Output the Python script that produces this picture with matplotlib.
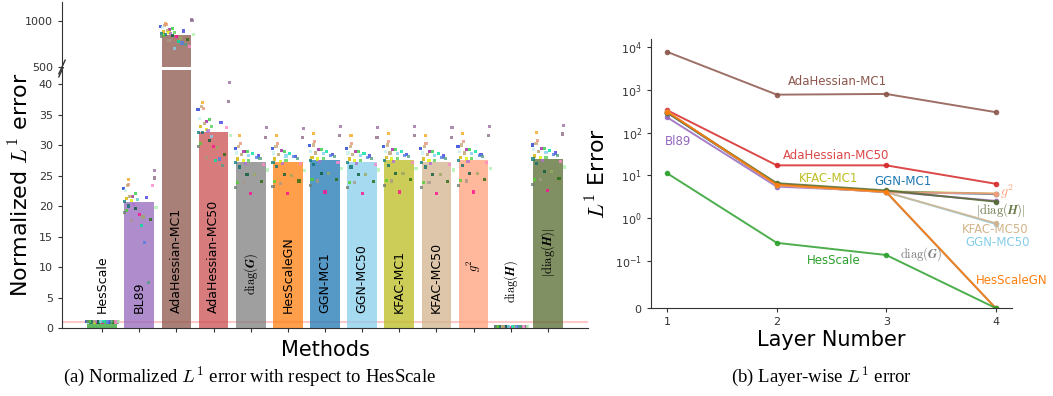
import matplotlib
matplotlib.use("Agg")
import matplotlib.pyplot as plt
from matplotlib.ticker import NullLocator

plt.rcParams['mathtext.fontset'] = 'cm'
plt.rcParams['font.family'] = ['DejaVu Sans']

# ---------------- data: normalized L1 error per method ----------------
methods = ["HesScale", "BL89", "AdaHessian-MC1", "AdaHessian-MC50",
           r"$\mathrm{diag}(\boldsymbol{G})$", "HesScaleGN", "GGN-MC1", "GGN-MC50",
           "KFAC-MC1", "KFAC-MC50", r"$g^2$", r"$\mathrm{diag}(\boldsymbol{H})$",
           r"$|\mathrm{diag}(\boldsymbol{H})|$"]
bar_values = [1.0, 20.6, 845.0, 32.2, 27.2, 27.2, 27.5, 27.2, 27.5, 27.2, 27.5, 0.03, 27.7]

# per-seed normalized errors for each method
seeds_hesscale = [1.05, 0.98, 1.02, 0.97, 1.03, 1.00, 0.99, 1.04, 0.96, 1.01,
                  0.98, 1.02, 1.00, 0.97, 1.03, 1.01, 0.99, 1.02, 0.98, 1.00,
                  1.01, 0.97, 1.03, 0.99, 1.00, 1.02, 0.98, 1.01, 0.99, 1.00]
seeds_bl89 = [25.8, 24.6, 24.4, 23.6, 23.4, 22.9, 22.6, 22.1, 21.6, 21.6,
              21.4, 21.3, 21.1, 20.9, 20.7, 20.3, 20.0, 19.8, 19.6, 19.3,
              19.0, 18.6, 18.2, 17.8, 17.6, 16.8, 14.0, 7.5, 23.3, 21.0]
seeds_ada1 = [1000, 1018, 975, 960, 950, 940, 930, 920, 905, 895,
              890, 880, 875, 870, 865, 860, 855, 850, 845, 840,
              835, 830, 815, 800, 790, 775, 760, 740, 720, 700]
seeds_ada50 = [40.3, 37.2, 37.0, 36.0, 36.3, 35.8, 34.4, 34.2, 33.8, 33.6,
               33.7, 33.0, 33.1, 32.6, 32.0, 32.3, 32.0, 31.6, 30.8, 30.2,
               29.7, 29.7, 29.6, 28.4, 28.0, 27.5, 27.7, 26.6, 32.9, 31.4]
seeds_diag_g = [32.8, 31.3, 31.6, 30.3, 29.7, 29.5, 28.7, 28.9, 29.0, 28.4,
                28.2, 27.7, 27.5, 27.4, 27.2, 27.0, 26.4, 25.9, 25.1, 23.9,
                23.1, 22.0, 25.1, 24.0, 23.8, 28.6, 28.0, 27.8, 26.8, 28.3]
seeds_hesgn = [32.7, 31.2, 31.6, 30.2, 29.7, 29.4, 28.7, 28.9, 29.1, 28.4,
               28.1, 27.7, 27.5, 27.3, 27.2, 27.0, 26.5, 25.8, 25.1, 24.0,
               23.2, 22.0, 25.0, 24.1, 23.7, 28.6, 28.1, 27.8, 26.9, 28.2]
seeds_ggn1 = [33.0, 31.6, 31.9, 30.6, 30.0, 29.9, 29.0, 29.2, 29.3, 28.7,
              28.5, 28.0, 27.8, 27.7, 27.5, 27.3, 26.8, 26.2, 25.4, 24.3,
              23.4, 22.3, 25.4, 24.3, 24.1, 28.9, 28.3, 28.1, 27.1, 28.6]
seeds_ggn50 = [32.8, 31.3, 31.6, 30.3, 29.7, 29.5, 28.7, 28.9, 29.0, 28.4,
               28.2, 27.7, 27.5, 27.4, 27.2, 27.0, 26.4, 25.9, 25.1, 23.9,
               23.1, 22.0, 25.1, 24.0, 23.8, 28.6, 28.0, 27.8, 26.8, 28.3]
seeds_kfac1 = [33.1, 31.6, 31.9, 30.6, 30.0, 29.8, 29.0, 29.2, 29.3, 28.7,
               28.5, 28.0, 27.8, 27.7, 27.5, 27.3, 26.7, 26.2, 25.4, 24.2,
               23.4, 22.3, 25.4, 24.3, 24.1, 28.9, 28.3, 28.1, 27.1, 28.6]
seeds_kfac50 = [32.8, 31.3, 31.6, 30.3, 29.7, 29.5, 28.7, 28.9, 29.0, 28.4,
                28.2, 27.7, 27.5, 27.4, 27.2, 27.0, 26.4, 25.9, 25.1, 23.9,
                23.1, 22.0, 25.1, 24.0, 23.8, 28.6, 28.0, 27.8, 26.8, 28.3]
seeds_g2 = [33.1, 31.6, 31.9, 30.6, 30.0, 29.8, 29.0, 29.2, 29.3, 28.7,
            28.5, 28.0, 27.8, 27.7, 27.5, 27.3, 26.7, 26.2, 25.4, 24.2,
            23.4, 22.3, 25.4, 24.3, 24.1, 28.9, 28.3, 28.1, 27.1, 28.6]
seeds_diag_h = [0.25, 0.18, 0.22, 0.15, 0.28, 0.20, 0.17, 0.24, 0.19, 0.21,
                0.16, 0.23, 0.20, 0.26, 0.18, 0.22, 0.19, 0.21, 0.17, 0.24,
                0.20, 0.15, 0.23, 0.19, 0.22, 0.18, 0.25, 0.20, 0.21, 0.19]
seeds_abs_diag_h = [33.2, 31.8, 32.0, 30.8, 30.2, 30.0, 29.2, 29.4, 29.5, 28.9,
                    28.7, 28.2, 28.0, 27.9, 27.7, 27.5, 26.9, 26.4, 25.6, 24.4,
                    23.6, 22.5, 25.6, 24.5, 24.3, 29.1, 28.5, 28.3, 27.3, 28.8]
seed_values = [seeds_hesscale, seeds_bl89, seeds_ada1, seeds_ada50, seeds_diag_g,
               seeds_hesgn, seeds_ggn1, seeds_ggn50, seeds_kfac1, seeds_kfac50,
               seeds_g2, seeds_diag_h, seeds_abs_diag_h]

# ---------------- data: layer-wise L1 error ----------------
layers = [1, 2, 3, 4]
err_ada1 = [7700, 770, 800, 300]
err_ada50 = [330, 17, 17, 6.3]
err_bl89 = [225, 5.4, 4.2, 2.5]
err_kfac1 = [300, 6.2, 4.2, 3.7]
err_ggn1 = [290, 6.0, 4.1, 3.6]
err_g2 = [310, 5.8, 4.0, 3.7]
err_abs_diag_h = [290, 6.5, 4.4, 2.4]
err_kfac50 = [300, 5.9, 4.0, 0.75]
err_ggn50 = [295, 5.9, 4.0, 0.72]
err_diag_g = [300, 5.9, 4.0, 0.0]
err_hesgn = [305, 6.0, 4.1, 0.0]
err_hesscale = [11, 0.26, 0.135, 0.0]

# ---------------- styling ----------------
bar_colors = ['#2ca02c', '#9467bd', '#8c564b', '#cc4f51', '#7f7f7f', '#ff7f0e',
              '#1f77b4', '#87ceeb', '#bcbd22', '#d2b48c', '#ffa07a', '#556b2f', '#556b2f']
seed_colors = ['#9b6fa0', '#8d6e8a', '#f5a623', '#e8957a', '#c8a878', '#1f3fd0',
               '#c8f0f0', '#2ecc40', '#a0209a', '#b8a070', '#4040e0', '#d4b000',
               '#55d055', '#e0f000', '#108080', '#b070d0', '#107070', '#b0f0b0',
               '#0a5a3a', '#50d030', '#708070', '#ff1090', '#9aa860', '#2a6a10',
               '#a89888', '#00e0a0', '#5080e0', '#50a080', '#ff88cc', '#80d0f0']
jitter = [0.42, 0.40, -0.30, -0.28, -0.32, -0.42, -0.38, -0.10, -0.18, -0.25,
          0.20, -0.35, -0.05, -0.20, -0.40, -0.15, -0.30, 0.45, -0.10, -0.35,
          -0.40, 0.00, 0.10, 0.30, -0.20, 0.05, 0.15, 0.25, 0.35, -0.05]
label_bottom = [2.5, 2.5, 2.5, 2.5, 5.4, 2.5, 2.5, 2.5, 2.5, 2.5, 9.2, 4.1, 8.4]

W, H = 1053, 396
fig = plt.figure(figsize=(W / 100, H / 100), dpi=100)

def frac(x0, y0, x1, y1):
    return [x0 / W, 1 - y1 / H, (x1 - x0) / W, (y1 - y0) / H]

spine_col = '#333333'
ax_lo = fig.add_axes(frac(62, 70, 588, 328))
ax_hi = fig.add_axes(frac(62, 2, 588, 67))

xpos = list(range(len(methods)))
for ax in (ax_lo, ax_hi):
    ax.bar(xpos, bar_values, width=0.8, color=bar_colors, alpha=0.75, zorder=2)
    for i, vals in enumerate(seed_values):
        xs = [i + j for j in jitter[:len(vals)]]
        ax.scatter(xs, vals, s=5, c=seed_colors[:len(vals)], marker='s',
                   alpha=0.8, linewidths=0, zorder=3)
    ax.axhline(1.0, color='#ff6666', alpha=0.35, lw=1.5, zorder=1)
    ax.set_xlim(-1.08, 13.08)
    for side in ('top', 'right'):
        ax.spines[side].set_visible(False)
    for s in ax.spines.values():
        s.set_color(spine_col)
    ax.tick_params(colors=spine_col, labelsize=8, length=3)

ax_lo.set_ylim(0, 42.3)
ax_lo.set_yticks([0, 5, 10, 15, 20, 25, 30, 35, 40])
ax_lo.set_xticks(xpos)
ax_lo.set_xticklabels([])
ax_hi.set_ylim(500, 1205)
ax_hi.set_yticks([500, 1000])
ax_hi.spines['bottom'].set_visible(False)
ax_hi.set_xticks([])

for i, name in enumerate(methods):
    ax_lo.text(i, label_bottom[i], name, rotation=90, ha='center', va='bottom',
               fontsize=9, color='black', zorder=4)

# break marks on the left spine
for ax, yy, k in ((ax_hi, 0.0, 4.0), (ax_lo, 1.0, 1.0)):
    d = 0.012 * 2.2 * k
    ax.plot([-0.006, 0.006], [yy - d, yy + d],
            transform=ax.transAxes, color=spine_col, lw=1, clip_on=False)

ax_lo.set_xlabel("Methods", fontsize=15, labelpad=2)
fig.text(20 / W, 1 - 185 / H, r"Normalized $L^1$ error", rotation=90,
         ha='center', va='center', fontsize=16)

# ---------------- right panel ----------------
ax_r = fig.add_axes(frac(651, 39, 1012, 308))
series = [
    ("AdaHessian-MC1", err_ada1, '#8c564b'),
    ("AdaHessian-MC50", err_ada50, '#d62728'),
    ("Bl89", err_bl89, '#9467bd'),
    ("GGN-MC50", err_ggn50, '#87ceeb'),
    ("KFAC-MC50", err_kfac50, '#d2b48c'),
    ("diag(G)", err_diag_g, '#7f7f7f'),
    ("KFAC-MC1", err_kfac1, '#bcbd22'),
    ("GGN-MC1", err_ggn1, '#1f77b4'),
    ("g2", err_g2, '#ffa07a'),
    ("|diag(H)|", err_abs_diag_h, '#556b2f'),
    ("HesScaleGN", err_hesgn, '#ff7f0e'),
    ("HesScale", err_hesscale, '#2ca02c'),
]
for name, vals, col in series:
    ax_r.plot(layers, vals, color=col, lw=1.4, marker='o', ms=3, alpha=0.85)

ax_r.set_yscale('symlog', linthresh=0.1, linscale=1)
ax_r.set_ylim(0, 1.55e4)
ax_r.set_xlim(0.85, 4.15)
ax_r.set_yticks([0, 0.1, 1, 10, 100, 1000, 10000])
ax_r.yaxis.set_minor_locator(NullLocator())
ax_r.set_xticks(layers)
for side in ('top', 'right'):
    ax_r.spines[side].set_visible(False)
for s in ax_r.spines.values():
    s.set_color(spine_col)
ax_r.tick_params(colors=spine_col, labelsize=8, length=3)
ax_r.set_xlabel("Layer Number", fontsize=15, labelpad=2)
ax_r.set_ylabel(r"$L^1$ Error", fontsize=16, labelpad=4)

lbl = dict(fontsize=8.5, ha='center', va='center')
ax_r.text(2.55, 1540, "AdaHessian-MC1", color='#8c564b', **lbl)
ax_r.text(2.54, 29, "AdaHessian-MC50", color='#d62728', alpha=0.85, **lbl)
ax_r.text(1.10, 62, "Bl89", color='#9467bd', **lbl)
ax_r.text(2.47, 8.5, "KFAC-MC1", color='#bcbd22', **lbl)
ax_r.text(3.15, 7.0, "GGN-MC1", color='#1f77b4', **lbl)
ax_r.text(4.10, 4.0, r"$g^2$", color='#ffa07a', fontsize=10, ha='center', va='center')
ax_r.text(4.05, 1.5, r"$|\mathrm{diag}(\boldsymbol{H})|$", color='#6b7a4a', fontsize=9,
          ha='center', va='center')
ax_r.text(4.00, 0.53, "KFAC-MC50", color='#d2b48c', **lbl)
ax_r.text(4.02, 0.26, "GGN-MC50", color='#87ceeb', **lbl)
ax_r.text(3.32, 0.14, r"$\mathrm{diag}(\boldsymbol{G})$", color='#7f7f7f', fontsize=9,
          ha='center', va='center')
ax_r.text(2.52, 0.10, "HesScale", color='#2ca02c', **lbl)
ax_r.text(4.15, 0.058, "HesScaleGN", color='#ff7f0e', **lbl)

# captions
cap = dict(family=['Liberation Serif'], fontsize=13.5, ha='center', va='center')
fig.text(250 / W, 1 - 377 / H, r"(a) Normalized $L^1$ error with respect to HesScale", **cap)
fig.text(821 / W, 1 - 377 / H, r"(b) Layer-wise $L^1$ error", **cap)

fig.savefig("out.png", dpi=100)
